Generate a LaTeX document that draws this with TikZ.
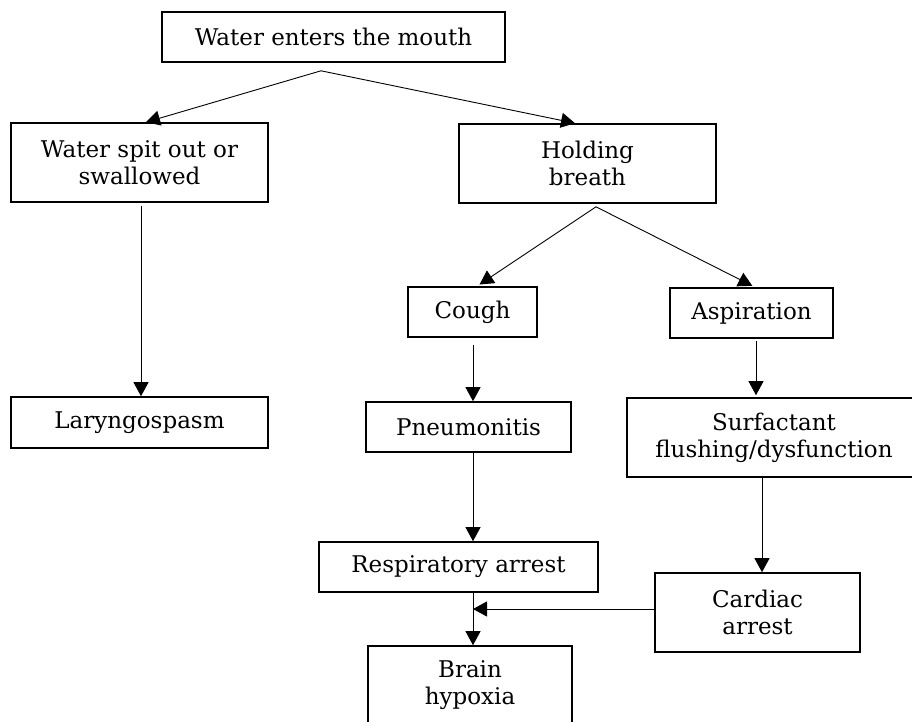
\documentclass[tikz,border=0pt]{standalone}
\usepackage{fontspec}
\setmainfont{DejaVu Serif}
\usetikzlibrary{arrows.meta}
\begin{document}
\begin{tikzpicture}[x=1pt,y=-1pt,
  box/.style={draw, line width=1.6pt, inner sep=0pt, align=center,
    font=\fontsize{23}{27}\selectfont},
  arr/.style={line width=0.9pt, -{Triangle[length=14pt,width=15pt]}}]
\useasboundingbox (0,0) rectangle (912,722);
\clip (0,0) rectangle (912,722);
\fill[white] (0,0) rectangle (912,722);
\node[box, minimum width=343pt, minimum height=50pt] (top) at (333.5,37) {Water enters the mouth};
\node[box, minimum width=257pt, minimum height=79pt] (spit) at (139.5,162.5) {Water spit out or\\swallowed};
\node[box, minimum width=257pt, minimum height=51pt] (laryn) at (139.5,422.5) {Laryngospasm};
\node[box, minimum width=257pt, minimum height=79pt] (hold) at (587.5,163.5) {Holding\\breath};
\node[box, minimum width=129pt, minimum height=50pt] (cough) at (472.5,312) {Cough};
\node[box, minimum width=163pt, minimum height=50pt] (asp) at (751.5,313) {Aspiration};
\node[box, minimum width=205pt, minimum height=50pt] (pneu) at (468.5,427) {Pneumonitis};
\node[box, minimum width=294pt, minimum height=79pt] (surf) at (774,437.5) {Surfactant\\flushing/dysfunction};
\node[box, minimum width=279pt, minimum height=50pt] (resp) at (458.5,567) {Respiratory arrest};
\node[box, minimum width=205pt, minimum height=79pt] (card) at (757.5,612.5) {Cardiac\\arrest};
\node[box, minimum width=204pt, minimum height=79pt] (brain) at (470,685.5) {Brain\\hypoxia};
% connectors
\coordinate (a1) at ([xshift=-12.5pt,yshift=-8pt]top.south);
\draw[arr] (a1) -- ([xshift=6.5pt]spit.north);
\draw[arr] (a1) -- ([xshift=-12.5pt]hold.north);
\coordinate (s1) at ([xshift=1.5pt]spit.south);
\draw[arr, shorten <=3pt] (s1) -- (s1 |- laryn.north);
\coordinate (a2) at ([xshift=8.5pt,yshift=-3pt]hold.south);
\draw[arr, shorten >=3pt] (a2) -- ([xshift=4.5pt]cough.north);
\draw[arr, shorten >=3pt] (a2) -- ([xshift=3.5pt]asp.north);
\coordinate (c1) at ([xshift=0.5pt]cough.south);
\draw[arr, shorten <=7pt] (c1) -- (c1 |- pneu.north);
\coordinate (as1) at ([xshift=4.5pt]asp.south);
\draw[arr, shorten <=2pt, shorten >=2pt] (as1) -- (as1 |- surf.north);
\coordinate (p1) at ([xshift=4.5pt]pneu.south);
\draw[arr] (p1) -- (p1 |- resp.north);
\coordinate (cn) at ([xshift=4.5pt]card.north);
\draw[arr] (cn |- surf.south) -- (cn);
\coordinate (r1) at ([xshift=14.5pt]resp.south);
\draw[arr] (r1) -- (r1 |- brain.north);
\coordinate (cw) at ([yshift=3.5pt]card.west);
\draw[arr] (cw) -- (r1 |- cw);
\end{tikzpicture}
\end{document}
